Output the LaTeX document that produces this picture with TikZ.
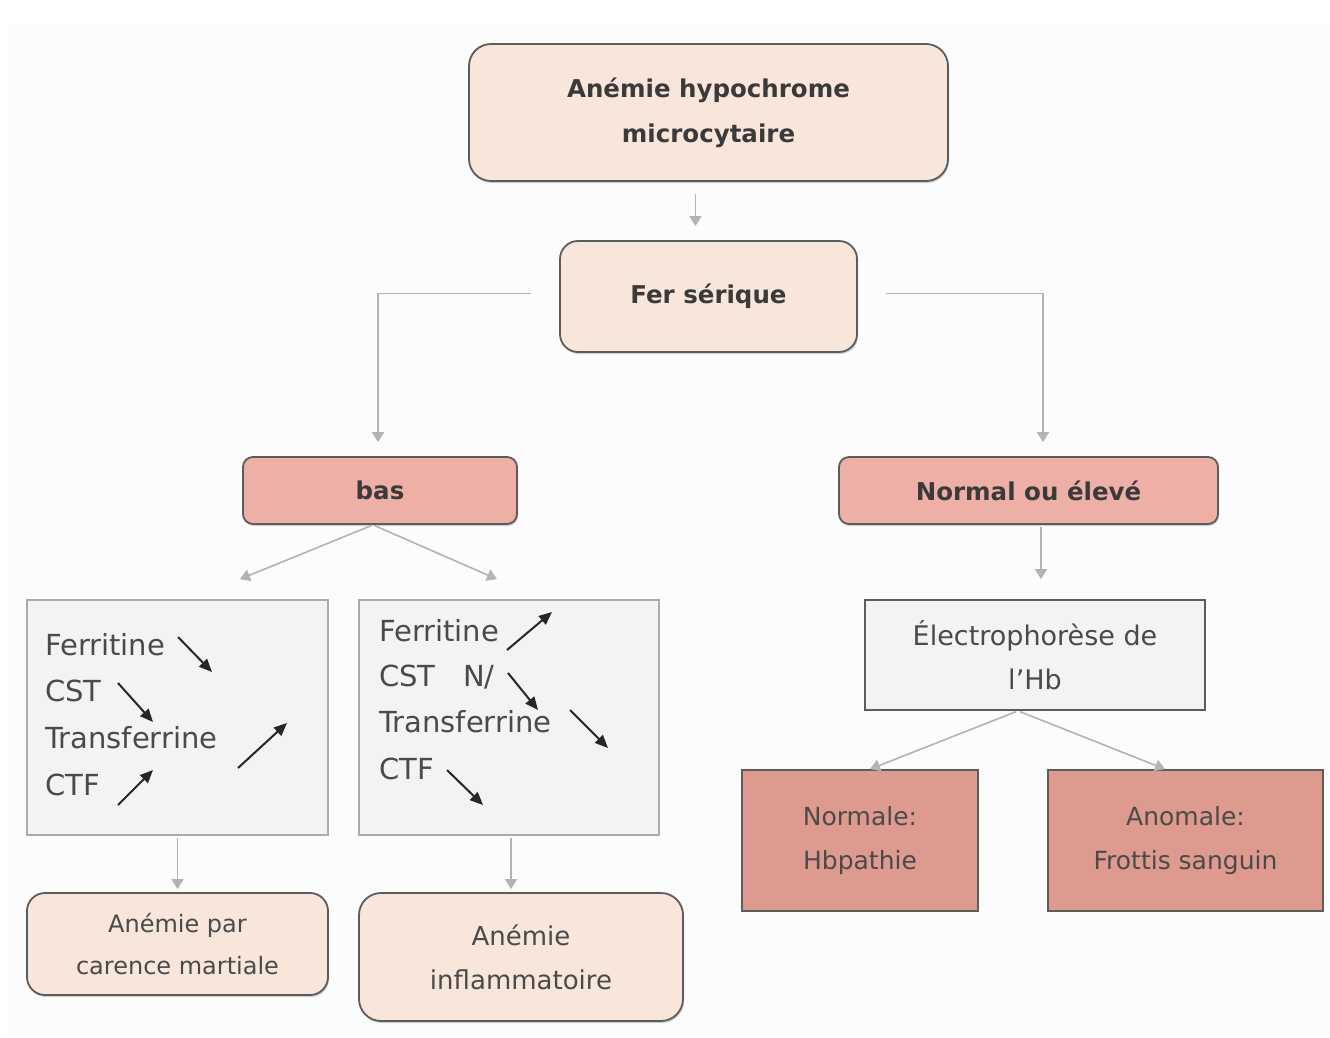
\documentclass[tikz,border=0pt]{standalone}
\usepackage{fontspec}
\setmainfont{DejaVu Sans}
\usetikzlibrary{arrows.meta,calc,shadows}
\definecolor{peach}{HTML}{F9E6DB}
\definecolor{salmonl}{HTML}{EEAFA6}
\definecolor{salmond}{HTML}{DF9A8F}
\definecolor{grayfill}{HTML}{F3F3F3}
\definecolor{bord}{HTML}{5C5C5C}
\definecolor{grayb}{HTML}{ABABAB}
\definecolor{connc}{HTML}{B3B3B3}
\definecolor{bgc}{HTML}{FCFCFC}
\definecolor{txtd}{HTML}{3A3A3A}
\definecolor{txtm}{HTML}{4A4A4A}
\begin{document}
\begin{tikzpicture}[x=1pt,y=-1pt,
  rbox/.style={draw=bord, line width=1.8pt, rounded corners=#1, align=center, inner sep=0pt,
     drop shadow={shadow xshift=1pt, shadow yshift=-2pt, fill=black, opacity=0.18}},
  boldtxt/.style={text=txtd, font=\fontsize{24.5}{45}\selectfont\bfseries},
  regtxt/.style={text=txtm, font=\fontsize{25}{44}\selectfont},
  sqbox/.style={draw=bord, line width=1.8pt, align=center, inner sep=0pt},
  graybox/.style={draw=grayb, line width=1.8pt, fill=grayfill, inner sep=0pt},
  linetxt/.style={anchor=mid west, inner sep=0pt, text=txtm, font=\fontsize{29}{34}\selectfont},
  conn/.style={draw=connc, line width=1.6pt, -{Triangle[length=10pt,width=12pt]}},
  blk/.style={draw=black!85, line width=2pt, -{Triangle[length=13pt,width=11pt]}}
]
\useasboundingbox (0,0) rectangle (1330,1037);
\fill[white] (0,0) rectangle (1330,1037);
\fill[bgc] (8,24) rectangle (1330,1037);

% main nodes
\node[rbox=22pt, fill=peach, boldtxt, minimum width=479pt, minimum height=137pt] (top) at (708.5,112.5)
  {Anémie hypochrome\\microcytaire};
\node[rbox=18pt, fill=peach, boldtxt, minimum width=297pt, minimum height=111pt] (fer) at (708.5,296.5)
  {Fer sérique};
\node[rbox=10pt, fill=salmonl, boldtxt, minimum width=274pt, minimum height=67pt] (bas) at (380,490.5)
  {bas};
\node[rbox=10pt, fill=salmonl, boldtxt, minimum width=379pt, minimum height=67pt] (nor) at (1028.5,490.5)
  {Normal ou élevé};
\node[graybox, minimum width=301pt, minimum height=235pt] (g1) at (177.5,717.5) {};
\node[graybox, minimum width=300pt, minimum height=235pt] (g2) at (509,717.5) {};
\node[rbox=18pt, fill=peach, regtxt, font=\fontsize{24}{42}\selectfont, minimum width=301pt, minimum height=102pt] (car) at (177.5,944)
  {Anémie par\\carence martiale};
\node[rbox=22pt, fill=peach, regtxt, font=\fontsize{26}{44}\selectfont, minimum width=324pt, minimum height=128pt] (inf) at (521,957)
  {Anémie\\inflammatoire};
\node[sqbox, fill=grayfill, regtxt, font=\fontsize{27}{44}\selectfont, minimum width=340pt, minimum height=110pt] (elec) at (1035,655)
  {Électrophorèse de\\l’Hb};
\node[sqbox, fill=salmond, regtxt, minimum width=236pt, minimum height=141pt] (norm) at (860,840.5)
  {Normale:\\Hbpathie};
\node[sqbox, fill=salmond, regtxt, minimum width=275pt, minimum height=141pt] (anom) at (1185.5,840.5)
  {Anomale:\\Frottis sanguin};

% texts in gray box 1
\node[linetxt] (l1a) at (45,653) {Ferritine};
\node[linetxt] (l1b) at (45,699) {CST};
\node[linetxt] (l1c) at (45,746) {Transferrine};
\node[linetxt] (l1d) at (45,793) {CTF};
% texts in gray box 2
\node[linetxt] (l2a) at (379,639) {Ferritine};
\node[linetxt] (l2b) at (379,684) {CST};
\node[linetxt] (l2n) at (463,684) {N/};
\node[linetxt] (l2c) at (379,730) {Transferrine};
\node[linetxt] (l2d) at (379,777) {CTF};

% black trend arrows, box 1
\draw[blk] (178,637) -- (212,672);
\draw[blk] (118,683) -- (153,722);
\draw[blk] (238,768) -- (287,723);
\draw[blk] (118,805) -- (153,770);
% black trend arrows, box 2
\draw[blk] (507,650) -- (552,612);
\draw[blk] (508,673) -- (538,710);
\draw[blk] (570,710) -- (608,748);
\draw[blk] (447,770) -- (483,805);

% connectors
\draw[conn, shorten <=12pt, shorten >=14pt] ([xshift=-13pt]top.south) -- ([xshift=-13pt]fer.north);
\draw[conn, shorten <=28pt, shorten >=14pt] ([yshift=3pt]fer.west) -| ([xshift=-2pt]bas.north);
\draw[conn, shorten <=28pt, shorten >=14pt] ([yshift=3pt]fer.east) -| ([xshift=14.5pt]nor.north);
\coordinate (b1) at ($(g1.north)+(62.5,-20)$);
\coordinate (b2) at ($(g2.north)+(-12,-20)$);
\draw[conn, shorten <=2pt] ([xshift=-7pt]bas.south) -- (b1);
\draw[conn, shorten <=2pt] ([xshift=-7pt]bas.south) -- (b2);
\draw[conn, shorten <=2pt, shorten >=20pt] ([xshift=12.5pt]nor.south) -- ([xshift=6pt]elec.north);
\draw[conn, shorten <=2pt, shorten >=3pt] (g1.south) -- (car.north);
\draw[conn, shorten <=2pt, shorten >=3pt] ([xshift=2pt]g2.south) -- ([xshift=2pt]g2.south |- inf.north);
\draw[conn, shorten <=2pt] ([xshift=-17pt]elec.south) -- ([xshift=10pt]norm.north);
\draw[conn, shorten <=2pt] ([xshift=-17pt]elec.south) -- ([xshift=-20.5pt]anom.north);
\end{tikzpicture}
\end{document}
